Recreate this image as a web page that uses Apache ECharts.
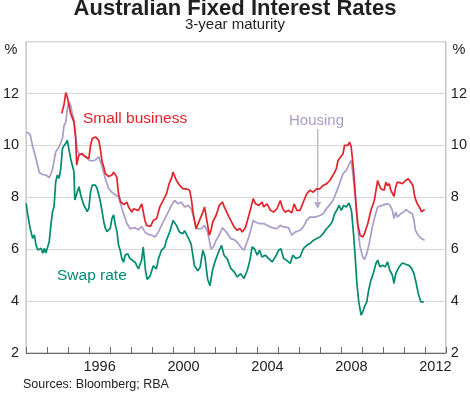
<!DOCTYPE html>
<html>
<head>
<meta charset="utf-8">
<script src="https://cdn.jsdelivr.net/npm/echarts@6/dist/echarts.min.js"></script>
<style>
html,body{margin:0;padding:0;background:#fff;}
#chart{width:470px;height:394px;}
</style>
</head>
<body>
<div id="chart"></div>
<script>
// ---- Data (decimal years, per cent) ----
const swapDates = [1993.00,1993.08,1993.16,1993.23,1993.31,1993.39,1993.47,1993.55,1993.63,1993.71,1993.79,1993.87,1993.94,1994.02,1994.10,1994.18,1994.26,1994.33,1994.41,1994.49,1994.57,1994.65,1994.73,1994.81,1994.89,1994.96,1995.04,1995.12,1995.20,1995.28,1995.32,1995.44,1995.52,1995.60,1995.67,1995.75,1995.83,1995.91,1995.99,1996.07,1996.15,1996.22,1996.30,1996.38,1996.46,1996.54,1996.62,1996.70,1996.77,1996.85,1996.93,1997.01,1997.09,1997.17,1997.25,1997.33,1997.40,1997.48,1997.56,1997.64,1997.72,1997.84,1997.94,1998.03,1998.19,1998.35,1998.50,1998.58,1998.69,1998.77,1998.90,1999.06,1999.21,1999.30,1999.45,1999.60,1999.68,1999.84,2000.00,2000.16,2000.31,2000.47,2000.55,2000.71,2000.86,2001.02,2001.18,2001.29,2001.42,2001.52,2001.65,2001.76,2001.89,2002.04,2002.20,2002.31,2002.43,2002.59,2002.75,2002.91,2003.06,2003.22,2003.38,2003.54,2003.66,2003.77,2003.88,2004.01,2004.12,2004.24,2004.40,2004.56,2004.72,2004.87,2005.03,2005.14,2005.27,2005.42,2005.58,2005.71,2005.86,2006.05,2006.21,2006.37,2006.52,2006.68,2006.84,2007.00,2007.15,2007.31,2007.47,2007.58,2007.70,2007.80,2007.91,2008.02,2008.13,2008.25,2008.38,2008.44,2008.50,2008.60,2008.68,2008.76,2008.85,2008.96,2009.04,2009.12,2009.23,2009.32,2009.43,2009.54,2009.67,2009.75,2009.86,2009.98,2010.11,2010.22,2010.33,2010.45,2010.53,2010.61,2010.77,2010.93,2011.08,2011.24,2011.37,2011.48,2011.59,2011.68,2011.74,2011.81,2011.87,2011.95];
const swapValues = [7.77,7.32,6.94,6.68,6.42,6.55,6.17,5.97,5.91,6.04,5.85,6.04,5.85,5.91,6.29,6.94,7.45,7.64,8.60,8.86,8.73,9.12,9.88,10.00,10.08,10.20,10.14,9.50,9.24,8.99,7.90,8.22,8.41,8.09,7.90,7.70,7.58,7.45,7.58,8.22,8.47,8.54,8.47,8.35,8.09,7.83,7.45,7.06,6.81,6.68,6.74,6.81,7.19,7.32,6.94,6.68,6.17,5.96,5.65,5.50,5.78,5.83,5.65,5.70,5.50,5.24,5.57,6.08,5.16,4.84,4.96,5.36,5.24,5.62,5.96,6.08,6.34,6.66,7.11,6.92,6.66,6.60,6.72,6.47,6.21,5.36,5.17,5.30,5.96,5.70,4.84,4.59,5.23,5.62,5.96,6.15,5.77,5.62,5.26,5.13,4.93,5.06,4.87,5.19,5.57,6.09,6.02,5.77,5.96,5.70,5.77,5.64,5.51,5.70,5.96,6.02,5.64,5.57,5.45,5.77,5.64,5.70,6.02,6.15,6.22,6.34,6.41,6.47,6.60,6.79,6.92,7.05,7.37,7.50,7.69,7.50,7.69,7.63,7.78,7.82,7.50,6.60,5.70,4.68,3.97,3.46,3.59,3.78,3.97,4.42,4.81,5.06,5.45,5.58,5.32,5.38,5.32,5.51,5.19,5.00,4.68,5.06,5.32,5.47,5.42,5.38,5.26,5.06,4.68,4.30,4.36,3.97,4.04,3.97];

const housingDates = [1993.00,1993.10,1993.20,1993.30,1993.47,1993.63,1993.79,1993.94,1994.10,1994.18,1994.26,1994.41,1994.57,1994.73,1994.81,1994.89,1994.96,1995.04,1995.12,1995.20,1995.28,1995.36,1995.44,1995.52,1995.67,1995.83,1995.99,1996.15,1996.30,1996.46,1996.54,1996.62,1996.77,1996.93,1997.09,1997.25,1997.40,1997.56,1997.72,1997.80,1997.96,1998.04,1998.19,1998.35,1998.51,1998.66,1998.82,1998.98,1999.14,1999.30,1999.45,1999.61,1999.77,1999.92,2000.08,2000.24,2000.39,2000.55,2000.71,2000.87,2001.02,2001.10,2001.18,2001.34,2001.50,2001.65,2001.81,2001.92,2002.05,2002.20,2002.36,2002.44,2002.60,2002.75,2002.91,2003.06,2003.22,2003.38,2003.46,2003.61,2003.72,2003.82,2003.93,2004.09,2004.32,2004.48,2004.72,2004.95,2005.11,2005.27,2005.50,2005.66,2005.82,2006.05,2006.21,2006.37,2006.52,2006.76,2007.00,2007.15,2007.31,2007.47,2007.62,2007.78,2007.94,2008.10,2008.25,2008.41,2008.49,2008.57,2008.69,2008.80,2008.91,2009.04,2009.12,2009.23,2009.35,2009.48,2009.59,2009.75,2009.90,2010.06,2010.22,2010.34,2010.45,2010.53,2010.61,2010.69,2010.85,2011.00,2011.11,2011.24,2011.40,2011.48,2011.55,2011.68,2011.84,2011.99];
const housingValues = [10.49,10.49,10.40,10.00,9.50,8.96,8.88,8.86,8.76,8.90,9.10,9.75,9.95,10.27,10.78,10.90,11.40,11.68,11.55,11.23,11.00,10.40,9.82,9.69,9.63,9.56,9.44,9.40,9.44,9.56,9.50,9.18,8.73,8.35,8.19,8.09,8.03,7.58,7.19,6.99,6.79,6.75,6.83,6.75,6.88,6.66,6.57,6.54,6.47,6.66,6.92,7.18,7.43,7.69,7.88,7.75,7.82,7.63,7.69,7.56,7.11,6.79,6.73,6.79,6.92,6.66,6.02,6.08,6.34,6.54,6.83,6.79,6.60,6.41,6.37,6.28,6.09,5.96,6.02,6.47,6.79,7.11,7.05,6.99,6.99,6.92,6.83,6.79,6.92,6.86,6.83,6.54,6.66,6.73,6.86,7.11,7.24,7.24,7.30,7.37,7.56,7.72,7.88,8.20,8.55,8.91,9.04,9.30,9.42,8.91,7.88,6.86,6.09,5.70,5.60,5.83,6.22,6.80,7.18,7.63,7.67,7.72,7.76,7.69,7.50,7.18,7.43,7.24,7.37,7.44,7.53,7.44,7.37,7.12,6.73,6.54,6.41,6.35];

const businessDates = [1994.70,1994.81,1994.89,1994.96,1995.04,1995.12,1995.20,1995.28,1995.36,1995.41,1995.46,1995.52,1995.67,1995.83,1995.99,1996.07,1996.15,1996.30,1996.46,1996.54,1996.62,1996.70,1996.77,1996.85,1996.93,1997.01,1997.09,1997.17,1997.25,1997.32,1997.40,1997.50,1997.56,1997.66,1997.72,1997.80,1997.88,1997.96,1998.04,1998.12,1998.19,1998.35,1998.51,1998.58,1998.66,1998.74,1998.82,1998.93,1999.06,1999.22,1999.37,1999.53,1999.69,1999.81,1999.92,2000.00,2000.08,2000.16,2000.24,2000.32,2000.47,2000.63,2000.79,2000.87,2000.94,2001.02,2001.10,2001.26,2001.42,2001.50,2001.57,2001.73,2001.81,2001.89,2002.05,2002.20,2002.36,2002.44,2002.52,2002.67,2002.83,2002.91,2003.06,2003.19,2003.30,2003.38,2003.46,2003.61,2003.72,2003.82,2003.93,2004.09,2004.24,2004.32,2004.48,2004.64,2004.79,2004.95,2005.11,2005.23,2005.34,2005.50,2005.66,2005.77,2005.90,2006.05,2006.21,2006.37,2006.52,2006.68,2006.84,2007.00,2007.15,2007.31,2007.47,2007.62,2007.78,2007.86,2007.94,2008.10,2008.17,2008.25,2008.33,2008.41,2008.49,2008.57,2008.65,2008.73,2008.80,2008.91,2009.04,2009.12,2009.28,2009.43,2009.59,2009.67,2009.75,2009.83,2009.90,2009.98,2010.06,2010.14,2010.22,2010.30,2010.38,2010.45,2010.53,2010.61,2010.69,2010.77,2010.93,2011.08,2011.21,2011.32,2011.43,2011.52,2011.63,2011.74,2011.84,2011.92,2011.99];
const businessValues = [11.24,11.60,12.04,11.87,11.55,11.23,11.19,10.90,10.27,9.24,9.45,9.63,9.69,9.56,9.50,10.00,10.27,10.33,10.20,9.85,9.37,9.17,8.92,8.85,8.80,8.78,8.86,8.97,8.92,8.78,8.14,7.83,7.76,7.72,7.69,7.82,7.63,7.69,7.43,7.56,7.50,7.50,7.75,7.69,7.11,6.92,6.99,6.88,7.11,7.18,7.63,7.88,8.14,8.52,8.72,8.97,8.90,8.65,8.72,8.46,8.33,8.33,8.27,7.95,7.50,7.11,6.79,7.11,7.43,7.63,7.30,6.54,6.73,7.05,7.30,7.69,7.82,7.63,7.50,7.24,6.99,6.86,6.73,6.80,6.66,6.60,6.86,7.30,7.63,7.95,7.75,7.69,7.82,7.63,7.75,7.50,7.43,7.56,7.88,7.56,7.43,7.50,7.40,7.75,7.50,7.50,7.82,8.14,8.27,8.20,8.33,8.33,8.46,8.52,8.65,8.85,9.10,9.42,9.40,9.68,10.00,10.06,10.00,10.13,9.94,9.30,8.53,7.63,6.99,6.54,6.47,6.60,6.99,7.50,7.88,8.27,8.65,8.46,8.33,8.40,8.27,8.59,8.45,8.53,8.27,8.20,8.04,8.40,8.59,8.65,8.53,8.65,8.72,8.59,8.46,8.01,7.76,7.63,7.44,7.48,7.54];

const yTicks = [2, 4, 6, 8, 10, 12];
const yearLabels = [1996, 2000, 2004, 2008, 2012];

const titleText = 'Australian Fixed Interest Rates';
const subtitleText = '3-year maturity';
const sourceText = 'Sources: Bloomberg; RBA';

// ---- Chart ----
const FONT = '"Liberation Sans", Arial, Helvetica, sans-serif';
const RED = '#e2232b', PURPLE = '#a99cca', TEAL = '#008a70';
const zip = (d, v) => d.map((x, i) => [x, v[i]]);

const chart = echarts.init(document.getElementById('chart'), null, {renderer: 'canvas'});

const yLabelFmt = v => (yTicks.indexOf(v) >= 0 ? String(v) : '');

chart.setOption({
  animation: false,
  backgroundColor: '#ffffff',
  grid: {
    left: 23.3, right: 23.5, top: 41.7, bottom: 41,
    show: true, borderColor: '#a8a8a8', borderWidth: 1, backgroundColor: 'transparent'
  },
  xAxis: [
    {
      type: 'value', min: 1993, max: 2013, interval: 1,
      axisLine: {show: true, lineStyle: {color: '#6a6a6a', width: 1}},
      axisTick: {show: true, inside: true, length: 6, lineStyle: {color: '#6a6a6a'}},
      axisLabel: {show: false},
      splitLine: {show: false}
    },
    {
      type: 'value', min: 1993, max: 2013, interval: 0.5, position: 'bottom',
      axisLine: {show: false}, axisTick: {show: false}, splitLine: {show: false},
      axisLabel: {
        show: true, margin: 6, fontFamily: FONT, fontSize: 14.5, color: '#222',
        formatter: v => {
          const y = Math.floor(v);
          return (Math.abs(v - y - 0.5) < 1e-6 && yearLabels.indexOf(y) >= 0) ? String(y) : '';
        }
      }
    }
  ],
  yAxis: [
    {
      type: 'value', min: 2, max: 14, interval: 2, position: 'left',
      axisLine: {show: false}, axisTick: {show: false},
      axisLabel: {margin: 7, fontFamily: FONT, fontSize: 14.5, color: '#222', formatter: yLabelFmt},
      splitLine: {show: true, lineStyle: {color: '#d6d6d6', width: 1}}
    },
    {
      type: 'value', min: 2, max: 14, interval: 2, position: 'right',
      axisLine: {show: false}, axisTick: {show: false},
      axisLabel: {margin: 5, fontFamily: FONT, fontSize: 14.5, color: '#222', formatter: yLabelFmt},
      splitLine: {show: false}
    }
  ],
  series: [
    {name: 'Housing', type: 'line', xAxisIndex: 0, yAxisIndex: 0, data: zip(housingDates, housingValues),
     showSymbol: false, lineStyle: {color: PURPLE, width: 1.7}, z: 3},
    {name: 'Swap rate', type: 'line', xAxisIndex: 0, yAxisIndex: 0, data: zip(swapDates, swapValues),
     showSymbol: false, lineStyle: {color: TEAL, width: 1.7}, z: 4},
    {name: 'Small business', type: 'line', xAxisIndex: 0, yAxisIndex: 0, data: zip(businessDates, businessValues),
     showSymbol: false, lineStyle: {color: RED, width: 1.7}, z: 5}
  ],
  graphic: [
    {type: 'text', left: 'center', top: -2, style: {text: titleText, font: 'bold 22px ' + FONT, fill: '#231f20'}},
    {type: 'text', left: 'center', top: 17, style: {text: subtitleText, font: '15px ' + FONT, fill: '#231f20'}},
    {type: 'text', x: 11, y: 50, style: {text: '%', font: '14.5px ' + FONT, fill: '#222', textAlign: 'center', textVerticalAlign: 'middle'}},
    {type: 'text', x: 459, y: 50, style: {text: '%', font: '14.5px ' + FONT, fill: '#222', textAlign: 'center', textVerticalAlign: 'middle'}},
    {type: 'text', x: 83, y: 119, style: {text: 'Small business', font: '15.5px ' + FONT, fill: RED, textAlign: 'left', textVerticalAlign: 'middle'}},
    {type: 'text', x: 289, y: 121, style: {text: 'Housing', font: '15px ' + FONT, fill: PURPLE, textAlign: 'left', textVerticalAlign: 'middle'}},
    {type: 'text', x: 57, y: 276, style: {text: 'Swap rate', font: '15.5px ' + FONT, fill: TEAL, textAlign: 'left', textVerticalAlign: 'middle'}},
    {type: 'line', shape: {x1: 317.7, y1: 129, x2: 317.7, y2: 204}, style: {stroke: '#b3a9c9', lineWidth: 1.2}},
    {type: 'polygon', shape: {points: [[314.2, 202], [321.2, 202], [317.7, 209]]}, style: {fill: '#b3a9c9'}},
    {type: 'text', x: 23, y: 385, style: {text: sourceText, font: '12.5px ' + FONT, fill: '#222', textAlign: 'left', textVerticalAlign: 'middle'}}
  ]
});
</script>
</body>
</html>
